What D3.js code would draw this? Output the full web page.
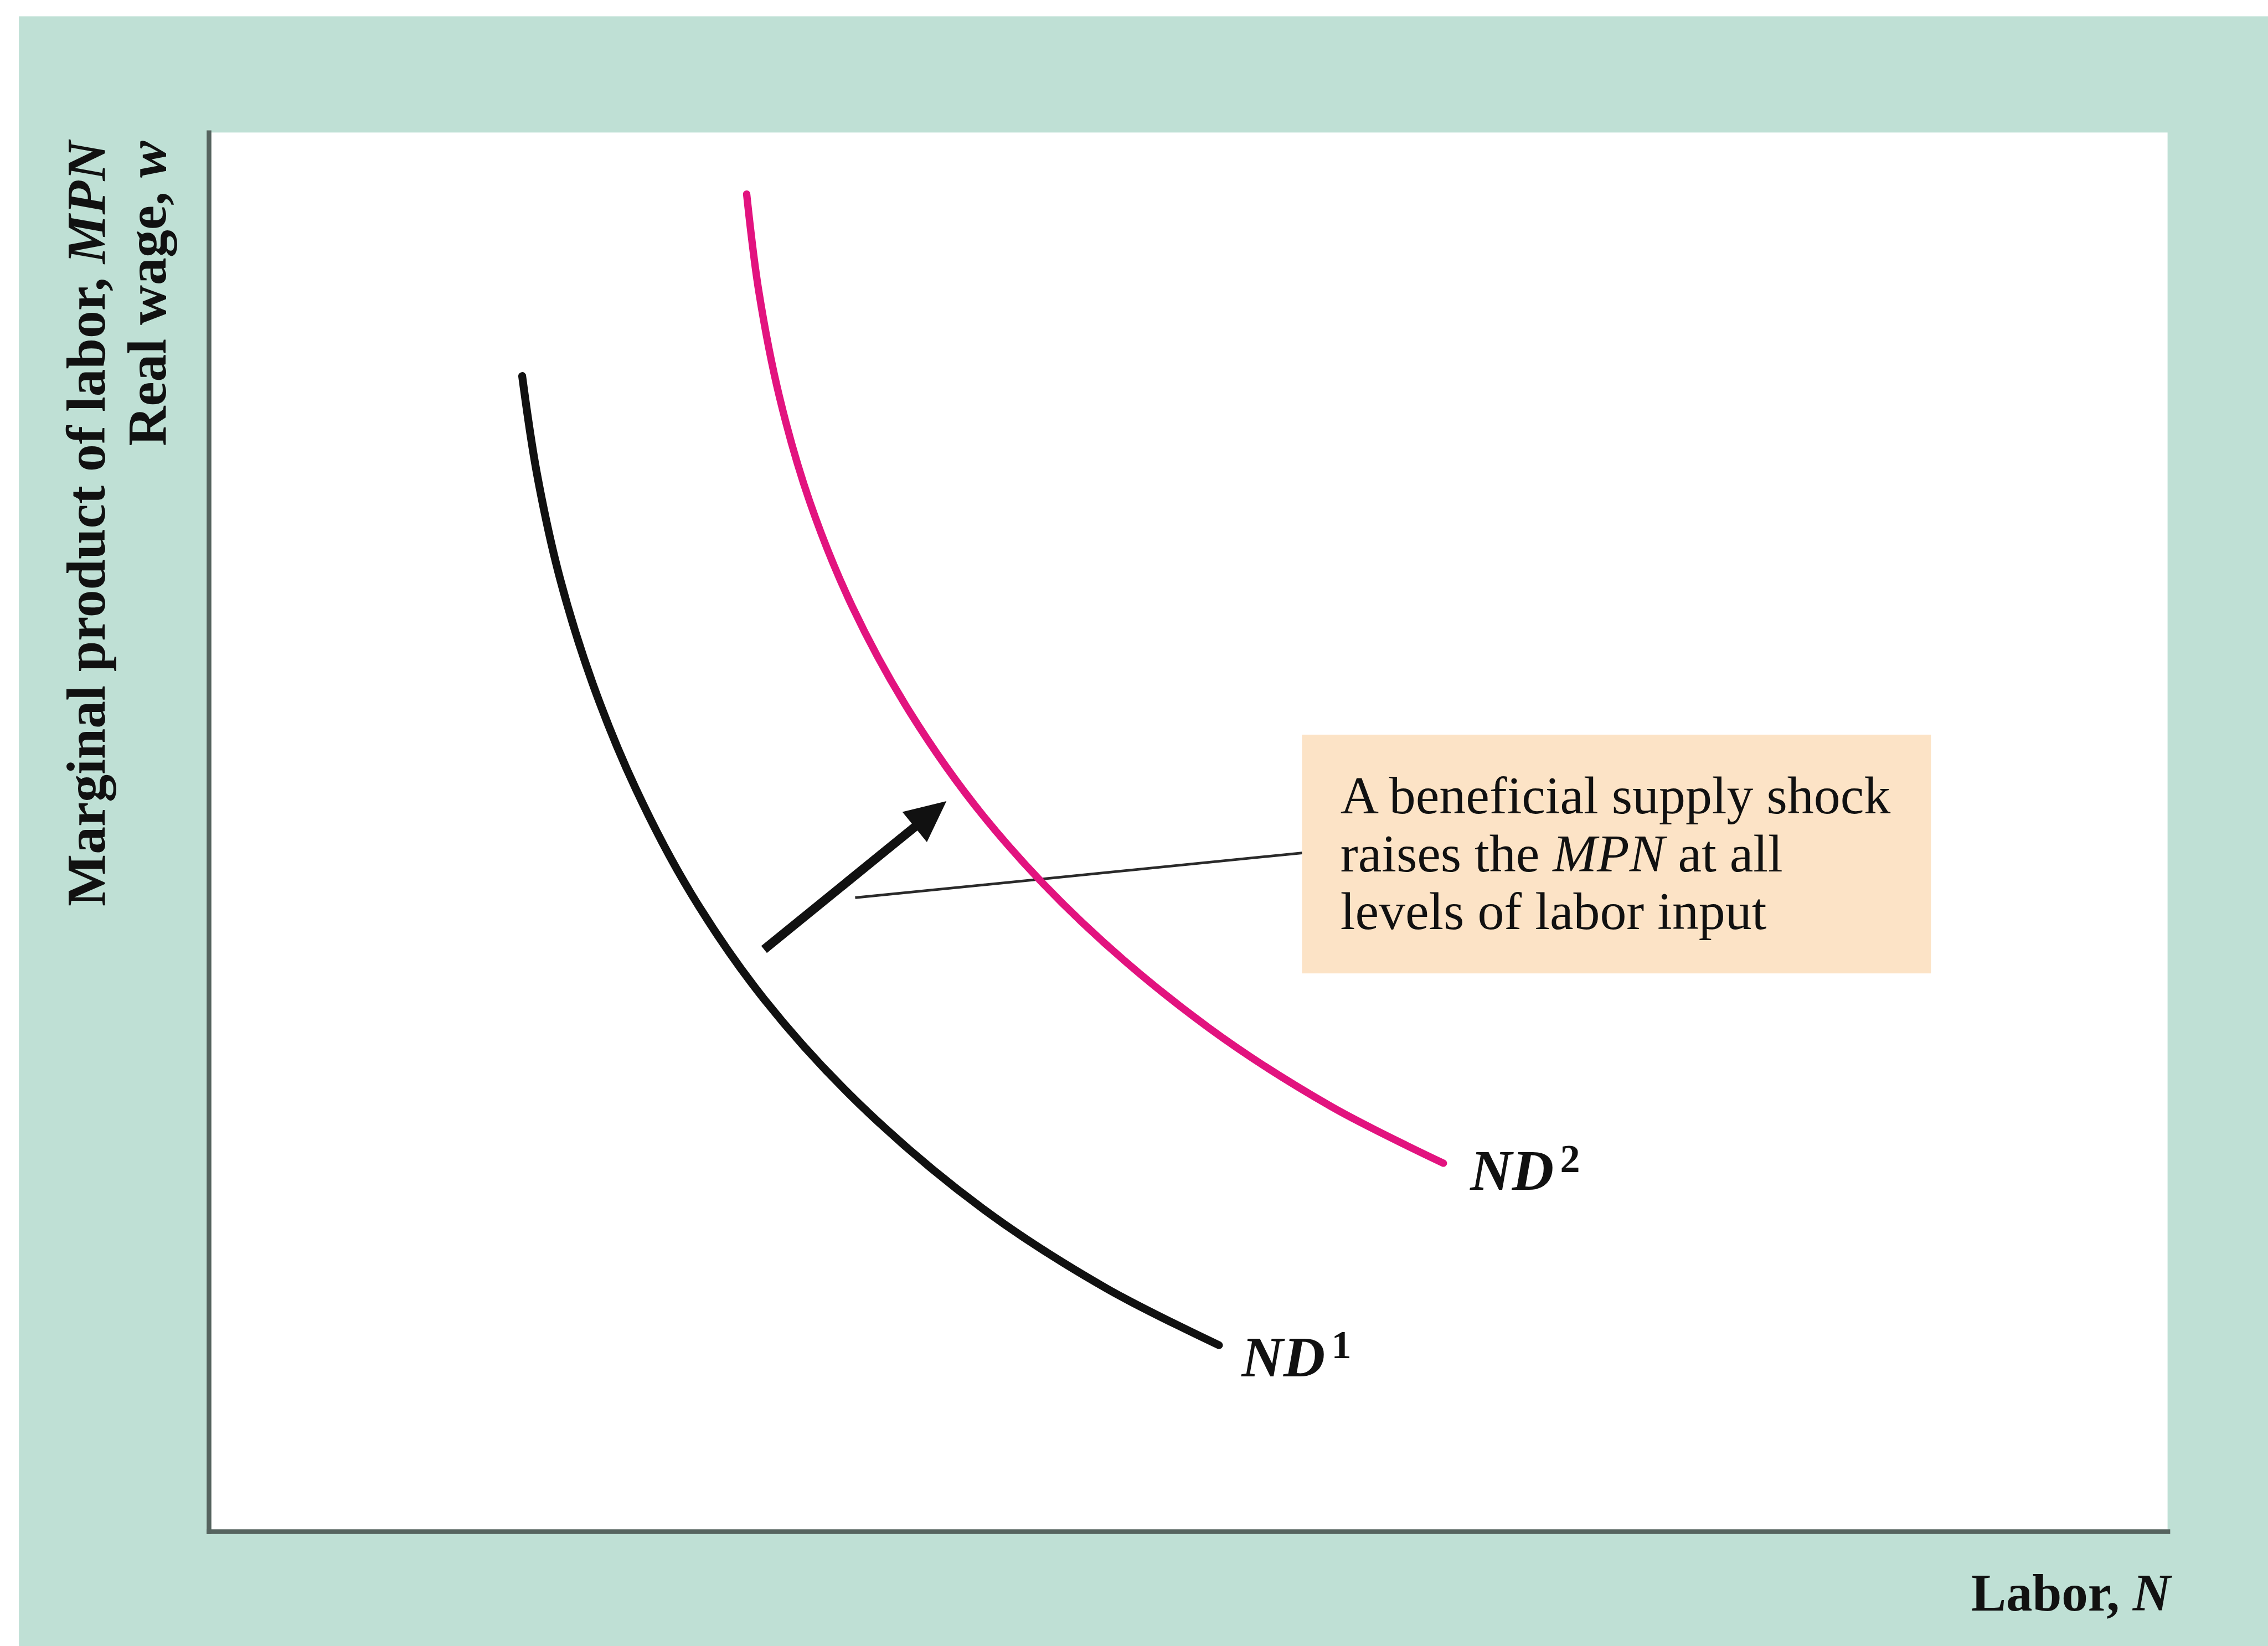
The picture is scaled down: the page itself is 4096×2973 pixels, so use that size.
<!DOCTYPE html>
<html>
<head>
<meta charset="utf-8">
<script src="https://cdn.jsdelivr.net/npm/d3@7"></script>
<style>
  html, body { margin: 0; padding: 0; background: #fff; }
  svg { display: block; }
</style>
</head>
<body>
<div id="chart"></div>
<script>
/* Labor demand shift after a beneficial supply shock */

// Curve values (labor N and MPN on a 0-100 scale)
const nd1Labor = [16.0, 16.75, 17.93, 19.6, 21.8, 24.64, 28.35, 33.23, 39.57, 45.83, 51.57];
const nd1Mpn   = [82.59, 75.64, 68.12, 60.6, 53.08, 45.56, 38.05, 30.53, 23.01, 17.37, 13.31];
const nd2Labor = [27.46, 28.08, 29.13, 30.68, 32.86, 35.79, 39.6, 44.59, 51.03, 57.29, 63.03];
const nd2Mpn   = [95.6, 88.65, 81.13, 73.61, 66.09, 58.57, 51.05, 43.53, 36.02, 30.38, 26.32];

// Labels
const curveLabels = ["ND", "ND"];
const curveSups = ["1", "2"];
const xLabel = ["Labor, ", "N"];
const yLabel1 = ["Marginal product of labor, ", "MPN"];
const yLabel2 = ["Real wage, ", "w"];
const noteLines = [
     [["A beneficial supply shock", false]],
     [["raises the ", false], ["MPN", true], [" at all", false]],
     [["levels of labor input", false]]
];

// Shift arrow and note pointer, in the same 0-100 units
const shiftArrow = {fromN: 28.35, fromW: 41.6, toN: 37.66, toW: 52.2};
const pointer = {fromN: 33.0, fromW: 45.3};

// Work in the reference's own pixel space, the viewBox scales it down
const refW = 4313, refH = 3130;
const plot = {left: 397, right: 4122, top: 252, bottom: 2912};
const serif = "'Liberation Serif', 'Times New Roman', serif";

let svg = d3.select("#chart")
     .append("svg")
     .attr("width", 4096)
     .attr("height", 2973)
     .attr("viewBox", "0 0 " + refW + " " + refH)
     .attr("preserveAspectRatio", "none");

// Backgrounds
svg.append("rect")
     .attr("x", 36).attr("y", 31)
     .attr("width", refW - 36).attr("height", refH - 31)
     .attr("fill", "#bfe0d5");

svg.append("rect")
     .attr("x", plot.left + 4).attr("y", plot.top)
     .attr("width", plot.right - plot.left - 4)
     .attr("height", plot.bottom - plot.top - 2)
     .attr("fill", "#ffffff");

// Scales
let scaleX = d3.scaleLinear().domain([0, 100]).range([plot.left, plot.right]);
let scaleY = d3.scaleLinear().domain([0, 100]).range([plot.bottom, plot.top]);

// Axes (no ticks, just the lines)
let axisColor = "#56645f";
svg.append("g")
     .attr("transform", "translate(" + plot.left + ",0)")
     .call(d3.axisLeft(scaleY).ticks(0).tickSizeOuter(0))
     .select(".domain")
          .attr("stroke", axisColor)
          .attr("stroke-width", 9)
          .attr("stroke-linecap", "square");

svg.append("g")
     .attr("transform", "translate(0," + plot.bottom + ")")
     .call(d3.axisBottom(scaleX).ticks(0).tickSizeOuter(0))
     .select(".domain")
          .attr("stroke", axisColor)
          .attr("stroke-width", 9)
          .attr("stroke-linecap", "square");

// Axis labels
let xl = svg.append("text")
     .attr("x", 4128).attr("y", 3063)
     .attr("text-anchor", "end")
     .attr("font-family", serif)
     .attr("font-weight", "bold")
     .attr("font-size", 100)
     .attr("fill", "#111");
xl.append("tspan").text(xLabel[0]);
xl.append("tspan").attr("font-style", "italic").text(xLabel[1]);

function yText(parts, bx) {
     let t = svg.append("text")
          .attr("transform", "translate(" + bx + ",268) rotate(-90)")
          .attr("text-anchor", "end")
          .attr("font-family", serif)
          .attr("font-weight", "bold")
          .attr("font-size", 105)
          .attr("fill", "#111");
     t.append("tspan").text(parts[0]);
     t.append("tspan").attr("font-style", "italic").text(parts[1]);
}
yText(yLabel1, 199);
yText(yLabel2, 315);

// Note box
let box = {left: 2476, right: 3672, top: 1397, bottom: 1851};
svg.append("rect")
     .attr("x", box.left).attr("y", box.top)
     .attr("width", box.right - box.left)
     .attr("height", box.bottom - box.top)
     .attr("fill", "#fce3c6");

noteLines.forEach(function(line, i) {
     let t = svg.append("text")
          .attr("x", 2549)
          .attr("y", 1547 + i * 110)
          .attr("font-family", serif)
          .attr("font-size", 101)
          .attr("fill", "#111");
     line.forEach(function(seg) {
          t.append("tspan")
               .attr("font-style", seg[1] ? "italic" : "normal")
               .text(seg[0]);
     });
});

// Pointer line from the arrow to the box
svg.append("line")
     .attr("x1", scaleX(pointer.fromN))
     .attr("y1", scaleY(pointer.fromW))
     .attr("x2", box.left)
     .attr("y2", 1622)
     .attr("stroke", "#2a2a2a")
     .attr("stroke-width", 5);

// Curves
let line = d3.line()
     .x(function(d) { return scaleX(d[0]); })
     .y(function(d) { return scaleY(d[1]); })
     .curve(d3.curveCatmullRom.alpha(0.5));

let nd1 = nd1Labor.map(function(v, i) { return [v, nd1Mpn[i]]; });
let nd2 = nd2Labor.map(function(v, i) { return [v, nd2Mpn[i]]; });

svg.append("path")
     .datum(nd1)
     .attr("d", line)
     .attr("fill", "none")
     .attr("stroke", "#111111")
     .attr("stroke-width", 15)
     .attr("stroke-linecap", "round");

svg.append("path")
     .datum(nd2)
     .attr("d", line)
     .attr("fill", "none")
     .attr("stroke", "#e2137f")
     .attr("stroke-width", 14)
     .attr("stroke-linecap", "round");

// Curve labels, placed off the last point of each curve
[[nd1, 43, 59], [nd2, 51, 51]].forEach(function(c, i) {
     let last = c[0][c[0].length - 1];
     let t = svg.append("text")
          .attr("x", scaleX(last[0]) + c[1])
          .attr("y", scaleY(last[1]) + c[2])
          .attr("font-family", serif)
          .attr("font-weight", "bold")
          .attr("fill", "#111");
     t.append("tspan")
          .attr("font-style", "italic")
          .attr("font-size", 110)
          .text(curveLabels[i]);
     t.append("tspan")
          .attr("font-size", 76)
          .attr("dx", 12)
          .attr("dy", -34)
          .text(curveSups[i]);
});

// Shift arrow
let ax1 = scaleX(shiftArrow.fromN), ay1 = scaleY(shiftArrow.fromW);
let ax2 = scaleX(shiftArrow.toN), ay2 = scaleY(shiftArrow.toW);
let ang = Math.atan2(ay2 - ay1, ax2 - ax1);
let headLen = 78, headHalf = 37;
let bx = ax2 - headLen * Math.cos(ang), by = ay2 - headLen * Math.sin(ang);

svg.append("line")
     .attr("x1", ax1).attr("y1", ay1)
     .attr("x2", bx + 4 * Math.cos(ang)).attr("y2", by + 4 * Math.sin(ang))
     .attr("stroke", "#111")
     .attr("stroke-width", 17);

svg.append("path")
     .attr("d", "M" + ax2 + "," + ay2 +
          "L" + (bx + headHalf * Math.sin(ang)) + "," + (by - headHalf * Math.cos(ang)) +
          "L" + (bx - headHalf * Math.sin(ang)) + "," + (by + headHalf * Math.cos(ang)) + "Z")
     .attr("fill", "#111");
</script>
</body>
</html>
